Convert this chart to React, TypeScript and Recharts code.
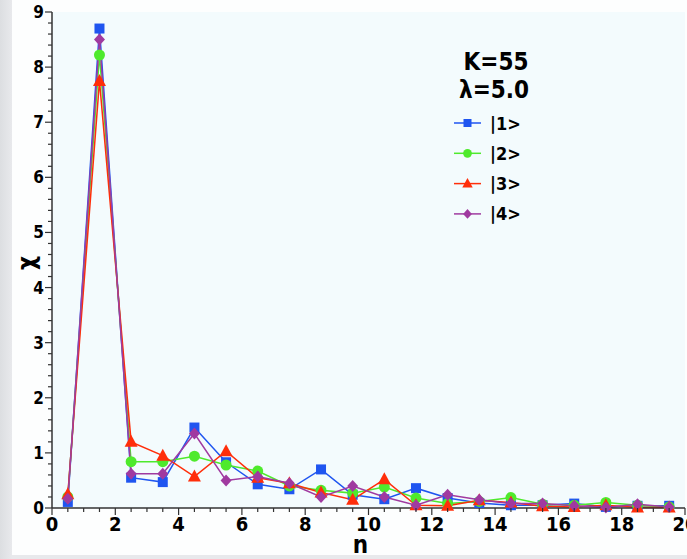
import { LineChart, Line, XAxis, YAxis, CartesianGrid, Legend } from "recharts";

const N = [0.5, 1.5, 2.5, 3.5, 4.5, 5.5, 6.5, 7.5, 8.5, 9.5, 10.5, 11.5, 12.5, 13.5, 14.5, 15.5, 16.5, 17.5, 18.5, 19.5];
const S1 = [0.11, 8.7, 0.55, 0.47, 1.46, 0.83, 0.43, 0.34, 0.7, 0.24, 0.16, 0.36, 0.18, 0.09, 0.05, 0.05, 0.08, 0.02, 0.04, 0.04];
const S2 = [0.2, 8.22, 0.84, 0.84, 0.94, 0.78, 0.67, 0.4, 0.32, 0.27, 0.38, 0.18, 0.08, 0.12, 0.19, 0.07, 0.05, 0.1, 0.05, 0.02];
const S3 = [0.25, 7.75, 1.2, 0.95, 0.57, 1.03, 0.55, 0.45, 0.28, 0.15, 0.52, 0.05, 0.04, 0.14, 0.1, 0.03, 0.02, 0.05, 0.01, 0.01];
const S4 = [0.17, 8.5, 0.62, 0.62, 1.35, 0.5, 0.57, 0.45, 0.2, 0.4, 0.2, 0.05, 0.24, 0.15, 0.08, 0.08, 0.04, 0.01, 0.07, 0.02];

const X_TICKS = Array.from({ length: 41 }, (_, i) => i * 0.5);
const Y_TICKS = Array.from({ length: 46 }, (_, i) => Math.round(i * 20) / 100);

const data = N.map((n, i) => ({ n, s1: S1[i], s2: S2[i], s3: S3[i], s4: S4[i] }));

const BLUE = "#1f55f0";
const GREEN = "#4eea2c";
const RED = "#ff2e0a";
const PURPLE = "#a03aa0";
const FONT = "'Liberation Sans Narrow', 'DejaVu Sans Condensed', 'Liberation Sans', Arial, sans-serif";

function marker(kind: string, cx: number, cy: number, key?: any, s = 1) {
    if (kind === "square")
        return <rect key={key} x={cx - 5 * s} y={cy - 5 * s} width={10 * s} height={10 * s} fill={BLUE} />;
    if (kind === "circle") return <circle key={key} cx={cx} cy={cy} r={5.5 * s} fill={GREEN} />;
    if (kind === "triangle")
        return (
            <polygon
                key={key}
                points={`${cx},${cy - 7 * s} ${cx + 6.5 * s},${cy + 5 * s} ${cx - 6.5 * s},${cy + 5 * s}`}
                fill={RED}
            />
        );
    return (
        <polygon
            key={key}
            points={`${cx},${cy - 6 * s} ${cx + 5.5 * s},${cy} ${cx},${cy + 6 * s} ${cx - 5.5 * s},${cy}`}
            fill={PURPLE}
        />
    );
}

const dotFor = (kind: string) => (p: any) => marker(kind, p.cx, p.cy, `${kind}-${p.index}`);

const XTick = (p: any) => {
    const v = p.payload.value;
    const major = Math.abs(v / 2 - Math.round(v / 2)) < 1e-6;
    return (
        <g>
            <line x1={p.x} y1={p.y} x2={p.x} y2={p.y + (major ? 7 : 4)} stroke="#333" strokeWidth={1.2} />
            {major && (
                <text x={p.x} y={p.y + 23} textAnchor="middle" fontFamily={FONT} fontWeight="bold" fontSize={20} fill="#000">
                    {v}
                </text>
            )}
        </g>
    );
};

const YTick = (p: any) => {
    const v = p.payload.value;
    const major = Math.abs(v - Math.round(v)) < 1e-6;
    return (
        <g>
            <line x1={p.x - (major ? 7 : 4)} y1={p.y} x2={p.x} y2={p.y} stroke="#333" strokeWidth={1.2} />
            {major && (
                <text x={p.x - 8} y={p.y + 6} textAnchor="end" fontFamily={FONT} fontWeight="bold" fontSize={17} fill="#000">
                    {v}
                </text>
            )}
        </g>
    );
};

const ITEMS = [
    { label: "|1>", kind: "square", color: BLUE },
    { label: "|2>", kind: "circle", color: GREEN },
    { label: "|3>", kind: "triangle", color: RED },
    { label: "|4>", kind: "diamond", color: PURPLE },
];

const LegendBox = () => (
    <svg width={120} height={180} style={{ display: "block", overflow: "visible" }}>
        <text x={52} y={25} textAnchor="middle" fontFamily={FONT} fontWeight="bold" fontSize={24} fill="#000">
            K=55
        </text>
        <text x={50} y={53} textAnchor="middle" fontFamily={FONT} fontWeight="bold" fontSize={24} fill="#000">
            λ=5.0
        </text>
        {ITEMS.map((it, i) => {
            const y = 78 + i * 30.3;
            return (
                <g key={it.label}>
                    <line x1={10} y1={y} x2={37} y2={y} stroke={it.color} strokeWidth={1.5} />
                    {marker(it.kind, 23.5, y, undefined, 0.8)}
                    <text x={46} y={y + 6.5} fontFamily={FONT} fontWeight="bold" fontSize={18} fill="#000">
                        {it.label}
                    </text>
                </g>
            );
        })}
    </svg>
);

export default function App() {
    return (
        <div
            style={{
                position: "absolute",
                left: 0,
                top: 0,
                width: 687,
                height: 559,
                background: "linear-gradient(to right, #dcdee1 0px, #e8e9ec 12px)",
            }}
        >
            <div style={{ position: "absolute", left: 12, top: 0, width: 675, height: 555, background: "#fdfefe" }}>
                <LineChart width={675} height={555} data={data} margin={{ top: 12, right: 2, bottom: 0, left: 0 }}>
                    <CartesianGrid horizontal={false} vertical={false} fill="#f3fbfd" />
                    <XAxis
                        dataKey="n"
                        type="number"
                        domain={[0, 20]}
                        ticks={X_TICKS}
                        interval={0}
                        height={47}
                        tickSize={0}
                        tickMargin={0}
                        tickLine={false}
                        tick={XTick}
                        axisLine={{ stroke: "#333", strokeWidth: 1.5 }}
                        label={{ value: "n", position: "insideBottom", offset: 2, fontFamily: FONT, fontWeight: "bold", fontSize: 24, fill: "#000", dx: -8 }}
                    />
                    <XAxis xAxisId="top" orientation="top" type="number" domain={[0, 20]} height={0} tick={false} tickLine={false} axisLine={{ stroke: "#444", strokeWidth: 1.5 }} />
                    <YAxis
                        type="number"
                        domain={[0, 9]}
                        ticks={Y_TICKS}
                        interval={0}
                        width={40}
                        tickSize={0}
                        tickMargin={0}
                        tickLine={false}
                        tick={YTick}
                        axisLine={{ stroke: "#333", strokeWidth: 1.5 }}
                        label={{ value: "χ", angle: -90, position: "insideLeft", offset: 14, fontFamily: FONT, fontWeight: "bold", fontSize: 24, fill: "#000", dy: 10 }}
                    />
                    <YAxis yAxisId="right" orientation="right" type="number" domain={[0, 9]} width={0} tick={false} tickLine={false} axisLine={{ stroke: "#444", strokeWidth: 1.5 }} />
                    <Legend
                        layout="vertical"
                        align="center"
                        verticalAlign="middle"
                        content={() => <LegendBox />}
                        wrapperStyle={{ left: 432, top: 45, width: 120, height: 180 }}
                    />
                    <Line dataKey="s1" stroke={BLUE} strokeWidth={1.5} dot={dotFor("square")} isAnimationActive={false} />
                    <Line dataKey="s2" stroke={GREEN} strokeWidth={1.5} dot={dotFor("circle")} isAnimationActive={false} />
                    <Line dataKey="s3" stroke={RED} strokeWidth={1.5} dot={dotFor("triangle")} isAnimationActive={false} />
                    <Line dataKey="s4" stroke={PURPLE} strokeWidth={1.5} dot={dotFor("diamond")} isAnimationActive={false} />
                </LineChart>
            </div>
        </div>
    );
}
